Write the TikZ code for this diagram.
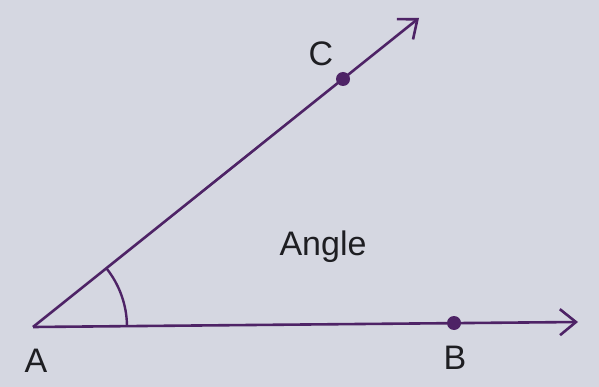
\documentclass[tikz,border=0pt]{standalone}
\usepackage{fontspec}
\setmainfont{Liberation Sans}
\usetikzlibrary{arrows.meta,calc}
\definecolor{bg}{HTML}{D5D7E1}
\definecolor{ray}{HTML}{4E2366}
\definecolor{ink}{HTML}{1E1E22}
\begin{document}
\begin{tikzpicture}[x=1pt,y=-1pt,
  rayline/.style={draw=ray,line width=2.6pt,-{Straight Barb[length=16pt,width=26pt,line width=2.6pt]}},
  dotpt/.style={circle,fill=ray,inner sep=0pt,minimum size=14pt},
  lbl/.style={text=ink,font=\fontsize{34}{34}\selectfont,inner sep=0pt}]
\useasboundingbox[fill=bg] (0,0) rectangle (599,387);
\coordinate (A) at (33,327);
\coordinate (Bend) at (578,322);
\coordinate (Cend) at (419,18);
\node[dotpt] (B) at (454,323) {};
\node[dotpt] (C) at (343,79) {};
\draw[rayline] (A) -- (Bend);
\draw[rayline] (A) -- (Cend);
\draw[ray,line width=2.4pt] ($(A)!94pt!(Bend)$) arc[start angle={atan(5/545)},end angle={atan(309/386)},radius=94pt];
\node[lbl] (la) at (36,361) {A};
\node[lbl] (lb) at (455,358) {B};
\node[lbl] (lc) at (321,54) {C};
\node[lbl] (ang) at (323,247) {Angle};
\end{tikzpicture}
\end{document}
